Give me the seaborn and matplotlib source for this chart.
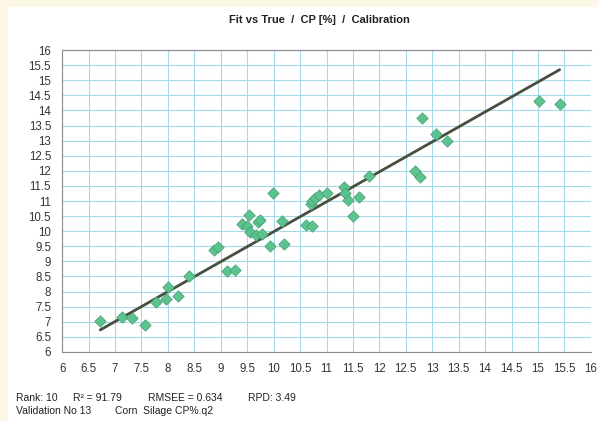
import matplotlib
matplotlib.use("Agg")
import matplotlib.pyplot as plt
import matplotlib.ticker as mticker
from matplotlib.patches import Rectangle
import numpy as np
import pandas as pd
import seaborn as sns

# values
true_vals = [6.72, 7.13, 7.32, 7.57, 7.77, 7.96, 8.01, 8.19, 8.40, 8.88,
             8.94, 9.12, 9.27, 9.40, 9.50, 9.53, 9.56, 9.67, 9.70, 9.74,
             9.78, 9.94, 9.99, 10.16, 10.20, 10.61, 10.73, 10.70, 10.73, 10.79,
             10.86, 11.01, 11.33, 11.35, 11.41, 11.62, 11.51, 11.80, 12.67, 12.76,
             12.81, 13.07, 13.28, 15.02, 15.41]
fit_vals = [7.02, 7.17, 7.12, 6.89, 7.64, 7.74, 8.15, 7.86, 8.53, 9.38,
            9.47, 8.69, 8.72, 10.25, 10.16, 10.55, 9.99, 9.87, 10.30, 10.36,
            9.90, 9.51, 11.27, 10.35, 9.59, 10.20, 10.17, 10.90, 11.00, 11.10,
            11.21, 11.28, 11.46, 11.26, 11.03, 11.14, 10.51, 11.84, 11.98, 11.78,
            13.74, 13.22, 13.00, 14.33, 14.21]
line_x = [6.72, 15.41]
line_y = [6.73, 15.35]
ticks = [6, 6.5, 7, 7.5, 8, 8.5, 9, 9.5, 10, 10.5, 11, 11.5, 12, 12.5,
         13, 13.5, 14, 14.5, 15, 15.5, 16]

df = pd.DataFrame({"true": true_vals, "fit": fit_vals})

sns.set_style("white")
plt.rcParams['font.family'] = ['Liberation Sans', 'DejaVu Sans']

fig = plt.figure(figsize=(5.98, 4.21), dpi=100)
fig.patch.set_facecolor("#fdf8e6")
# white scanned page behind everything
page = Rectangle((8 / 598, 0), 1, 1 - 7 / 421, transform=fig.transFigure,
                 facecolor="white", edgecolor="none", zorder=-10)
fig.add_artist(page)

ax = fig.add_axes([0.104, 0.164, 0.884, 0.717])
ax.set_zorder(1)
ax.set_facecolor("white")

sns.lineplot(x=line_x, y=line_y, ax=ax, color="#474f3e", linewidth=2.0, zorder=3)
sns.scatterplot(data=df, x="true", y="fit", ax=ax, marker="D", s=34,
                color="#5cc38f", edgecolor="#449f72", linewidth=0.5, zorder=4)

ax.set_xlim(6, 16)
ax.set_ylim(6, 16)
ax.set_xticks(ticks)
ax.set_yticks(ticks)
fmt = mticker.FuncFormatter(lambda v, p: "%g" % v)
ax.xaxis.set_major_formatter(fmt)
ax.yaxis.set_major_formatter(fmt)
ax.grid(True, color="#a6d9e8", linewidth=0.8)
ax.set_axisbelow(True)
ax.tick_params(axis="both", labelsize=8.3, colors="#333333", length=4, width=0.6,
               direction="out", pad=4)
ax.tick_params(axis="both", color="#888888")
for side in ["left", "bottom", "top"]:
    ax.spines[side].set_color("#8a8a8a")
    ax.spines[side].set_linewidth(0.8)
ax.spines["right"].set_visible(False)
ax.set_xlabel("")
ax.set_ylabel("")

fig.text(0.535, 0.952, "Fit vs True  /  CP [%]  /  Calibration", ha="center", va="center",
         fontsize=8, fontweight="bold", color="#222222")

stats = [("Rank: 10", 16), ("R² = 91.79", 73), ("RMSEE = 0.634", 148), ("RPD: 3.49", 248)]
for s, xp in stats:
    fig.text(xp / 598, 1 - 398 / 421, s, ha="left", va="center", fontsize=7.5, color="#222222")
fig.text(16 / 598, 1 - 411 / 421, "Validation No 13", ha="left", va="center",
         fontsize=7.5, color="#222222")
fig.text(115 / 598, 1 - 411 / 421, "Corn  Silage CP%.q2", ha="left", va="center",
         fontsize=7.5, color="#222222")

fig.savefig("out.png", dpi=100, facecolor=fig.get_facecolor())
